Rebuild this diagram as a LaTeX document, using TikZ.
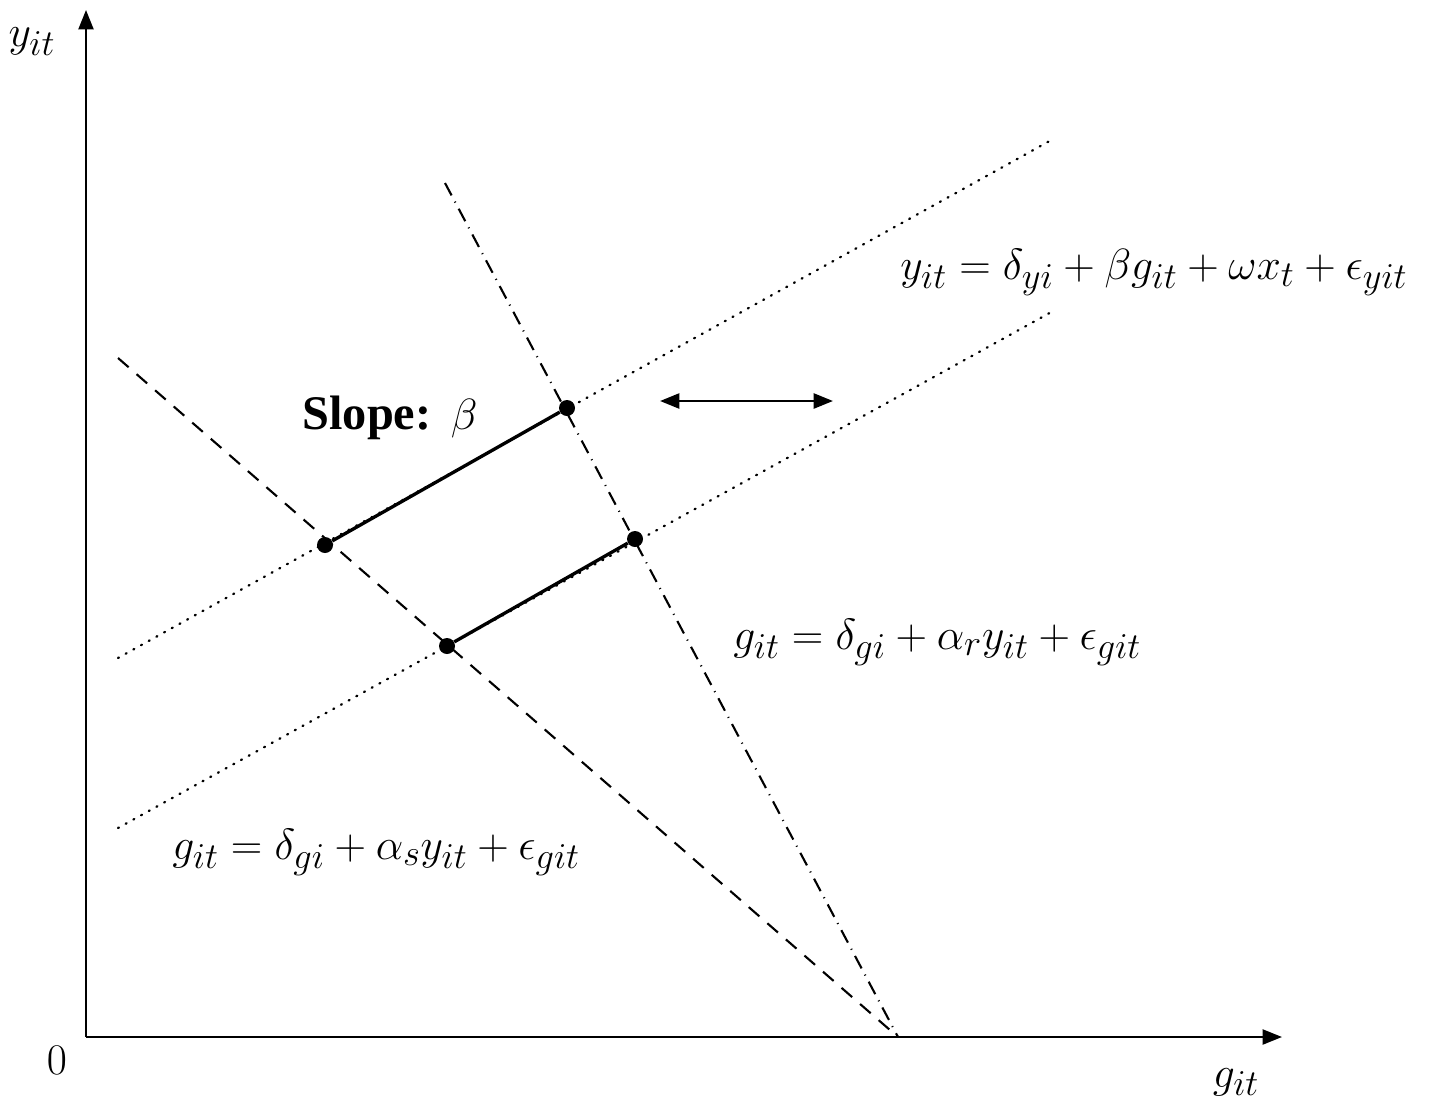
\documentclass[tikz,border=0pt]{standalone}
\usepackage{fontspec}
\newfontfamily\timesfont{Liberation Serif}
\usetikzlibrary{arrows.meta}
\begin{document}
\begin{tikzpicture}[x=0.02cm,y=-0.02cm,
  axis/.style={line width=1.3pt,-{Triangle[length=11pt,width=8.5pt]}},
  dotline/.style={line width=1.3pt,dash pattern=on 0.6pt off 4.4pt,line cap=round},
  dashline/.style={line width=1.2pt,dash pattern=on 8pt off 6pt},
  dashdotline/.style={line width=1.2pt,dash pattern=on 8pt off 4pt on 0.6pt off 4pt},
  solidline/.style={line width=1.9pt},
  pt/.style={circle,fill=black,inner sep=0pt,minimum size=16*0.02cm},
  lab/.style={inner sep=0pt,font=\fontsize{27.5}{32}\selectfont}]
\useasboundingbox (0,0) rectangle (1434,1109);
% axes
\coordinate (O) at (86,1037);
\coordinate (ytip) at (86,10);
\coordinate (xtip) at (1282,1037);
\draw[axis] (O) -- (ytip);
\draw[axis] (O) -- (xtip);
\node[lab] (ylab) at (32,42) {$y_{it}$};
\node[lab] (zero) at (57,1060) {$0$};
\node[lab] (xlab) at (1236,1082) {$g_{it}$};
% lines
\coordinate (base) at (898,1037);
\coordinate (rtop) at (445,183);
\coordinate (stop) at (118,358);
\draw[dashdotline] (rtop) -- (base);
\draw[dashline] (stop) -- (base);
\coordinate (u1) at (118,658);
\coordinate (u2) at (1055,138);
\coordinate (l1) at (118,828);
\coordinate (l2) at (1055,310);
\draw[dotline] (u1) -- (u2);
\draw[dotline] (l1) -- (l2);
% points
\node[pt] (A) at (567,408) {};
\node[pt] (B) at (635,539) {};
\node[pt] (C) at (325,545) {};
\node[pt] (D) at (447,646) {};
\draw[solidline] (C) -- (A);
\draw[solidline] (D) -- (B);
% double arrow
\coordinate (da1) at (660,401);
\coordinate (da2) at (833,401);
\draw[line width=1.5pt,{Triangle[length=11pt,width=8.5pt]}-{Triangle[length=11pt,width=8.5pt]}] (da1) -- (da2);
% labels
\node[lab] (slope) at (390,418) {{\timesfont\bfseries Slope:} $\beta$};
\node[lab,anchor=west] (eqy) at (900,272) {$y_{it}=\delta_{yi}+\beta g_{it}+\omega x_t+\epsilon_{yit}$};
\node[lab,anchor=west] (eqr) at (733,642) {$g_{it}=\delta_{gi}+\alpha_r y_{it}+\epsilon_{git}$};
\node[lab,anchor=west] (eqs) at (172,852) {$g_{it}=\delta_{gi}+\alpha_s y_{it}+\epsilon_{git}$};
\end{tikzpicture}
\end{document}
